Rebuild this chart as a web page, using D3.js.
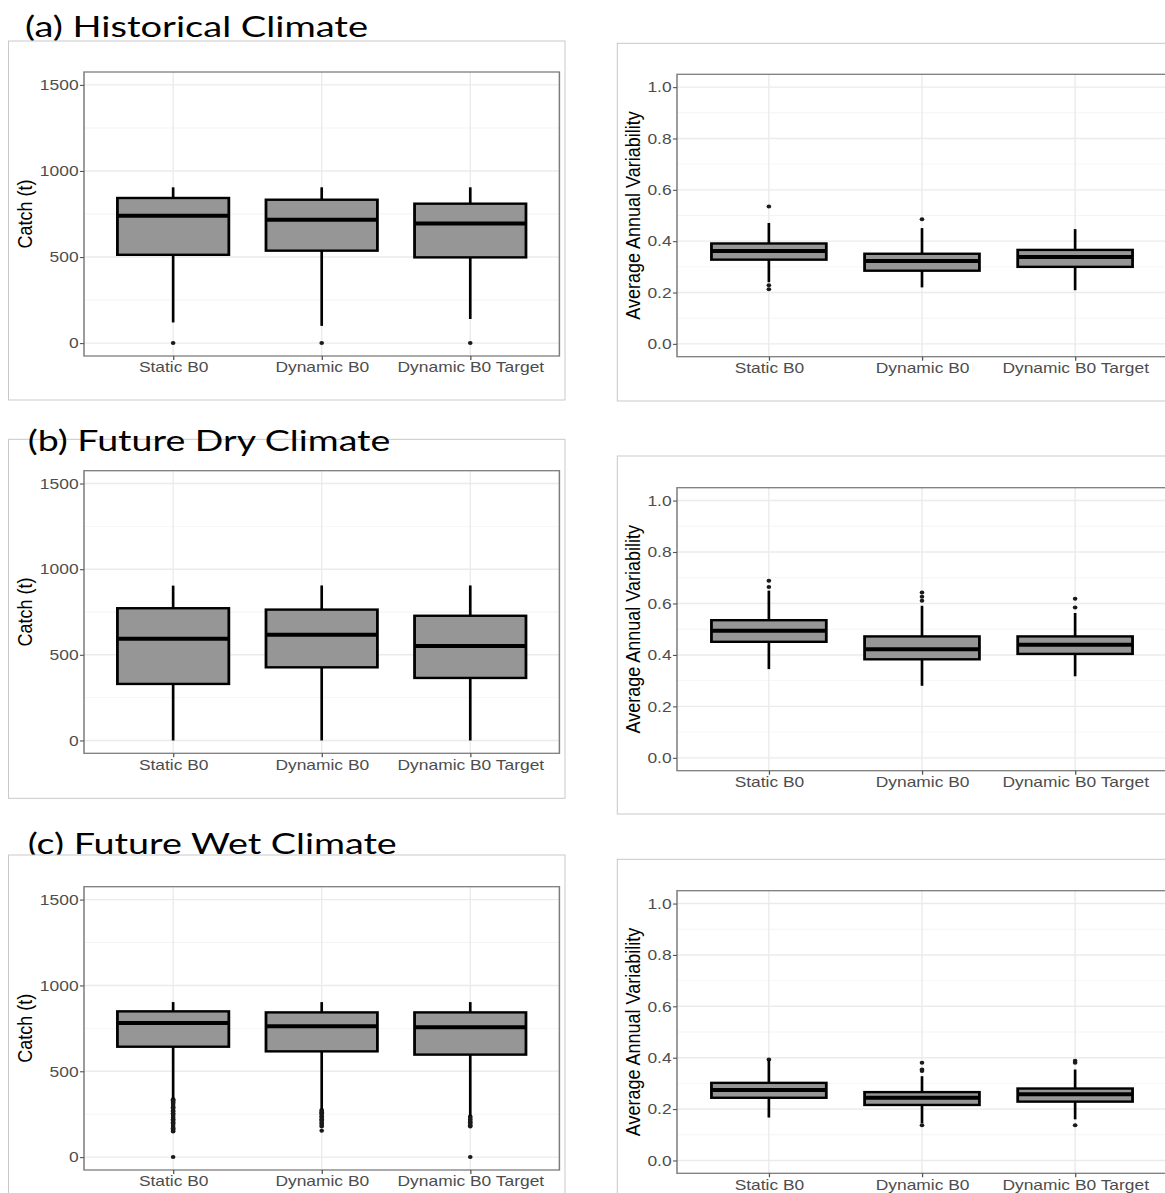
<!DOCTYPE html>
<html>
<head>
<meta charset="utf-8">
<script src="https://cdn.jsdelivr.net/npm/d3@7"></script>
<style>
  body { margin: 0; background: #fff; }
  svg { display: block; }
</style>
</head>
<body>
<svg id="fig" width="1165" height="1193"></svg>
<script>
// ---- Data ---------------------------------------------------------------
const categories = ["Static B0", "Dynamic B0", "Dynamic B0 Target"];
const scenarioTitles = ["(a) Historical Climate", "(b) Future Dry Climate", "(c) Future Wet Climate"];

const catchTicks = [0, 500, 1000, 1500];
const catchMinorTicks = [250, 750, 1250];
const variabilityTicks = [0, 0.2, 0.4, 0.6, 0.8, 1.0];
const variabilityMinorTicks = [0.1, 0.3, 0.5, 0.7, 0.9];

// Box summaries per strategy: [lower whisker, Q1, median, Q3, upper whisker]
const catchHistorical = [[120, 513, 740, 843, 905], [100, 537, 717, 833, 905], [140, 498, 695, 810, 905]];
const catchHistoricalOutliers = [[0], [0], [0]];

const catchDry = [[0, 330, 594, 772, 904], [0, 427, 617, 764, 905], [0, 365, 551, 728, 905]];
const catchDryOutliers = [[], [], []];

const catchWet = [[340, 643, 781, 849, 903], [278, 616, 762, 843, 903], [240, 597, 756, 843, 903]];
const catchWetOutliers = [
  [337, 331, 322, 316, 309, 298, 291, 283, 272, 266, 255, 247, 239, 230, 221, 214, 203, 196, 187, 176, 168, 161, 152, 149, 0],
  [275, 269, 262, 254, 247, 238, 229, 221, 213, 204, 196, 187, 179, 153],
  [236, 228, 219, 211, 203, 194, 186, 179, 0]
];

const aavHistorical = [[0.240, 0.328, 0.362, 0.391, 0.471], [0.220, 0.285, 0.323, 0.351, 0.451], [0.209, 0.300, 0.338, 0.366, 0.447]];
const aavHistoricalOutliers = [[0.535, 0.228, 0.213], [0.485], []];

const aavDry = [[0.345, 0.451, 0.494, 0.535, 0.650], [0.280, 0.383, 0.422, 0.472, 0.591], [0.317, 0.404, 0.440, 0.472, 0.563]];
const aavDryOutliers = [[0.688, 0.664], [0.643, 0.626, 0.611], [0.618, 0.584]];

const aavWet = [[0.167, 0.244, 0.274, 0.302, 0.390], [0.145, 0.216, 0.244, 0.266, 0.328], [0.160, 0.229, 0.258, 0.280, 0.354]];
const aavWetOutliers = [[0.393], [0.380, 0.354, 0.348, 0.137], [0.388, 0.380, 0.137]];

// ---- Layout -------------------------------------------------------------
// The embedded plots are stretched horizontally; everything inside a plot
// is drawn in unstretched units and scaled by SX.
const SX = 1.16;

const catchSpec = {
  domain: [-75, 1575], ticks: catchTicks, minor: catchMinorTicks,
  format: d3.format("d"), label: "Catch (t)"
};
const aavSpec = {
  domain: [-0.05, 1.05], ticks: variabilityTicks, minor: variabilityMinorTicks,
  format: d3.format(".1f"), label: "Average Annual Variability"
};

const charts = [
  { spec: catchSpec, boxes: catchHistorical, outliers: catchHistoricalOutliers,
    frame: [8.5, 41, 565, 400], panel: [84, 72, 559.4, 356], titleX: 24 },
  { spec: aavSpec, boxes: aavHistorical, outliers: aavHistoricalOutliers,
    frame: [617.3, 43.3, 1175, 401], panel: [677, 74.3, 1167, 356.7], titleX: 632 },
  { spec: catchSpec, boxes: catchDry, outliers: catchDryOutliers,
    frame: [8.5, 439.3, 565, 798.3], panel: [84, 470.7, 559.4, 753.3], titleX: 24 },
  { spec: aavSpec, boxes: aavDry, outliers: aavDryOutliers,
    frame: [617.3, 456, 1175, 814], panel: [677, 487.7, 1167, 770.7], titleX: 632 },
  { spec: catchSpec, boxes: catchWet, outliers: catchWetOutliers,
    frame: [8.5, 855, 565, 1205], panel: [84, 886.7, 559.4, 1170], titleX: 24 },
  { spec: aavSpec, boxes: aavWet, outliers: aavWetOutliers,
    frame: [617.3, 859.3, 1175, 1205], panel: [677, 890.7, 1167, 1173.3], titleX: 632 }
];

const titleLayout = [
  { x: 25, y: 36.5, width: 343, above: false },
  { x: 27.7, y: 450.5, width: 362.6, above: true },
  { x: 27.7, y: 853.5, width: 369, above: false }
];

const svg = d3.select("#fig");

function drawTitle(i) {
  const t = titleLayout[i];
  svg.append("text")
    .attr("x", t.x).attr("y", t.y)
    .attr("textLength", t.width)
    .attr("lengthAdjust", "spacingAndGlyphs")
    .style("font-family", "Lato, 'Open Sans', sans-serif")
    .style("font-size", "29.5px")
    .style("fill", "#000")
    .text(scenarioTitles[i]);
}

// Titles that sit beneath the plot images
titleLayout.forEach((t, i) => { if (!t.above) drawTitle(i); });

// Picture frames around each embedded plot
svg.append("g").selectAll("rect")
  .data(charts)
  .join("rect")
  .attr("x", d => d.frame[0]).attr("y", d => d.frame[1])
  .attr("width", d => d.frame[2] - d.frame[0])
  .attr("height", d => d.frame[3] - d.frame[1])
  .attr("fill", "#fff")
  .attr("stroke", "#c9c9c9")
  .attr("stroke-width", 1);

function drawChart(c) {
  const s = c.spec;
  const g = svg.append("g").attr("transform", `scale(${SX},1)`);
  const L = c.panel[0] / SX, R = c.panel[2] / SX, T = c.panel[1], B = c.panel[3];

  const x = d3.scalePoint().domain(categories).range([L, R]).padding(0.6);
  const y = d3.scaleLinear().domain(s.domain).range([B, T]);
  const bw = x.step() * 0.75;

  // grid
  g.append("g").selectAll("line.minor")
    .data(s.minor).join("line")
    .attr("x1", L).attr("x2", R)
    .attr("y1", d => y(d)).attr("y2", d => y(d))
    .attr("stroke", "#f4f4f4").attr("stroke-width", 0.9);
  g.append("g").selectAll("line.major")
    .data(s.ticks).join("line")
    .attr("x1", L).attr("x2", R)
    .attr("y1", d => y(d)).attr("y2", d => y(d))
    .attr("stroke", "#ebebeb").attr("stroke-width", 1.4);
  g.append("g").selectAll("line.vmajor")
    .data(categories).join("line")
    .attr("x1", d => x(d)).attr("x2", d => x(d))
    .attr("y1", T).attr("y2", B)
    .attr("stroke", "#ebebeb").attr("stroke-width", 1.2);

  const rows = categories.map((k, i) => ({ k, v: c.boxes[i], out: c.outliers[i] }));

  // outliers
  g.append("g").selectAll("g")
    .data(rows).join("g")
    .selectAll("circle")
    .data(d => d.out.map(o => ({ k: d.k, o })))
    .join("circle")
    .attr("cx", d => x(d.k))
    .attr("cy", d => y(d.o))
    .attr("r", 2)
    .attr("fill", "#1a1a1a");

  const box = g.append("g").selectAll("g").data(rows).join("g");
  // whiskers
  box.append("line")
    .attr("x1", d => x(d.k)).attr("x2", d => x(d.k))
    .attr("y1", d => y(d.v[4])).attr("y2", d => y(d.v[3]))
    .attr("stroke", "#000").attr("stroke-width", 2.3);
  box.append("line")
    .attr("x1", d => x(d.k)).attr("x2", d => x(d.k))
    .attr("y1", d => y(d.v[1])).attr("y2", d => y(d.v[0]))
    .attr("stroke", "#000").attr("stroke-width", 2.3);
  // IQR box
  box.append("rect")
    .attr("x", d => x(d.k) - bw / 2)
    .attr("width", bw)
    .attr("y", d => y(d.v[3]))
    .attr("height", d => y(d.v[1]) - y(d.v[3]))
    .attr("fill", "#969696")
    .attr("stroke", "#000")
    .attr("stroke-width", 2.4);
  // median
  box.append("line")
    .attr("x1", d => x(d.k) - bw / 2).attr("x2", d => x(d.k) + bw / 2)
    .attr("y1", d => y(d.v[2])).attr("y2", d => y(d.v[2]))
    .attr("stroke", "#000").attr("stroke-width", 4);

  // panel border
  g.append("rect")
    .attr("x", L).attr("y", T)
    .attr("width", R - L).attr("height", B - T)
    .attr("fill", "none")
    .attr("stroke", "#7d7d7d")
    .attr("stroke-width", 1.3);

  // axes
  const yAxis = g.append("g")
    .attr("transform", `translate(${L},0)`)
    .call(d3.axisLeft(y).tickValues(s.ticks).tickFormat(s.format).tickSize(3.5).tickPadding(1.2));
  const xAxis = g.append("g")
    .attr("transform", `translate(0,${B})`)
    .call(d3.axisBottom(x).tickSize(4).tickPadding(1.8));
  [yAxis, xAxis].forEach(a => {
    a.select(".domain").remove();
    a.selectAll(".tick line").attr("stroke", "#555").attr("stroke-width", 1.1);
    a.selectAll(".tick text")
      .style("font-family", "'Liberation Sans', Arial, sans-serif")
      .style("font-size", "15px")
      .attr("fill", "#4d4d4d");
  });

  // y-axis title
  const ty = (T + B) / 2, tx = c.titleX / SX;
  g.append("text")
    .attr("x", tx).attr("y", ty)
    .attr("dy", "0.36em")
    .attr("transform", `rotate(-90,${tx},${ty})`)
    .attr("text-anchor", "middle")
    .style("font-family", "'Liberation Sans', Arial, sans-serif")
    .style("font-size", "18px")
    .attr("fill", "#000")
    .text(s.label);
}

charts.forEach(drawChart);

// Titles laid over the plot frames
titleLayout.forEach((t, i) => { if (t.above) drawTitle(i); });
</script>
</body>
</html>
